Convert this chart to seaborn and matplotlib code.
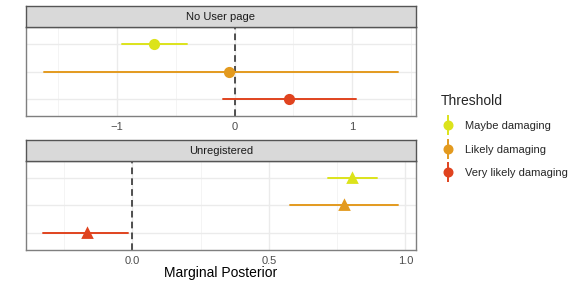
import pandas as pd
import seaborn as sns
import matplotlib.pyplot as plt
from matplotlib.lines import Line2D
from matplotlib.legend_handler import HandlerTuple

thresholds = ["Maybe damaging", "Likely damaging", "Very likely damaging"]
colors = ["#DCE31B", "#E39A1F", "#E0431F"]

# No User page panel
nup_est = [-0.68, -0.05, 0.466]
nup_lo = [-0.958, -1.619, -0.10]
nup_hi = [-0.407, 1.39, 1.034]

# Unregistered panel
unr_est = [0.806, 0.777, -0.165]
unr_lo = [0.718, 0.579, -0.326]
unr_hi = [0.897, 0.974, -0.015]

sns.set_style("white")
plt.rcParams["font.family"] = ["Liberation Sans", "DejaVu Sans"]


def long_frame(est, lo, hi):
    rows = []
    for t, e, l, h in zip(thresholds, est, lo, hi):
        for v in (l, e, h):
            rows.append({"Threshold": t, "value": v})
    return pd.DataFrame(rows)


W, H = 581, 291
fig = plt.figure(figsize=(W / 100, H / 100), dpi=100)


def panel(top, bottom, strip_top, title, df, marker, msize, xlim, ticks, labels, minors):
    ax = fig.add_axes([26 / W, 1 - bottom / H, 390 / W, (bottom - top) / H])
    sax = fig.add_axes([26 / W, 1 - top / H, 390 / W, (top - strip_top) / H])
    sax.set_facecolor("#D9D9D9")
    sax.set_xticks([])
    sax.set_yticks([])
    for s in sax.spines.values():
        s.set_color("#555555")
        s.set_linewidth(1.0)
    sax.text(0.5, 0.5, title, ha="center", va="center", fontsize=8, color="#1A1A1A",
             transform=sax.transAxes)

    for m in minors:
        ax.axvline(m, color="#F2F2F2", lw=0.6, zorder=0)
    for t in ticks:
        ax.axvline(t, color="#EBEBEB", lw=1.0, zorder=0)
    for i in range(len(thresholds)):
        ax.axhline(i, color="#EBEBEB", lw=1.0, zorder=0)

    ax.axvline(0, color="#333333", lw=1.2, ls=(0, (4, 2.5)), zorder=1)

    sns.pointplot(data=df, x="value", y="Threshold", hue="Threshold", order=thresholds,
                  hue_order=thresholds, palette=colors, estimator="median",
                  errorbar=lambda v: (v.min(), v.max()), markers=marker,
                  linestyle="none", markersize=msize, err_kws={"linewidth": 1.4},
                  legend=False, ax=ax, zorder=3)

    ax.set_xlim(*xlim)
    ax.set_ylim(2.6, -0.6)
    ax.set_xticks(ticks)
    ax.set_xticklabels(labels)
    ax.set_yticks([])
    ax.set_ylabel("")
    ax.set_xlabel("")
    ax.tick_params(axis="x", length=2.5, width=0.8, color="#333333", labelsize=8,
                   labelcolor="#4D4D4D", pad=1.5)
    for s in ax.spines.values():
        s.set_color("#7F7F7F")
        s.set_linewidth(1.0)
    return ax


panel(27, 116, 6, "No User page", long_frame(nup_est, nup_lo, nup_hi), "o", 6.0,
      (-1.77, 1.54), [-1, 0, 1], ["\u22121", "0", "1"], [-1.5, -0.5, 0.5, 1.5])
ax2 = panel(161, 250, 140, "Unregistered", long_frame(unr_est, unr_lo, unr_hi), "^", 6.0,
            (-0.39, 1.039), [0, 0.5, 1.0], ["0.0", "0.5", "1.0"], [-0.25, 0.25, 0.75])
ax2.set_xlabel("Marginal Posterior", fontsize=10, color="black", labelpad=0)

handles = []
for c in colors:
    vline = Line2D([], [], color=c, marker="|", markersize=14, markeredgewidth=1.4, linestyle="none")
    dot = Line2D([], [], color=c, marker="o", markersize=6.2, linestyle="none")
    handles.append((vline, dot))

fig.legend(handles, thresholds, title="Threshold", loc="upper left",
           bbox_to_anchor=(431 / W, 1 - 84 / H), frameon=False, fontsize=8,
           title_fontsize=10, handler_map={tuple: HandlerTuple(ndivide=1)},
           handlelength=1.2, labelspacing=1.2, handletextpad=1.0, alignment="left")

fig.savefig("out.png", dpi=100)
